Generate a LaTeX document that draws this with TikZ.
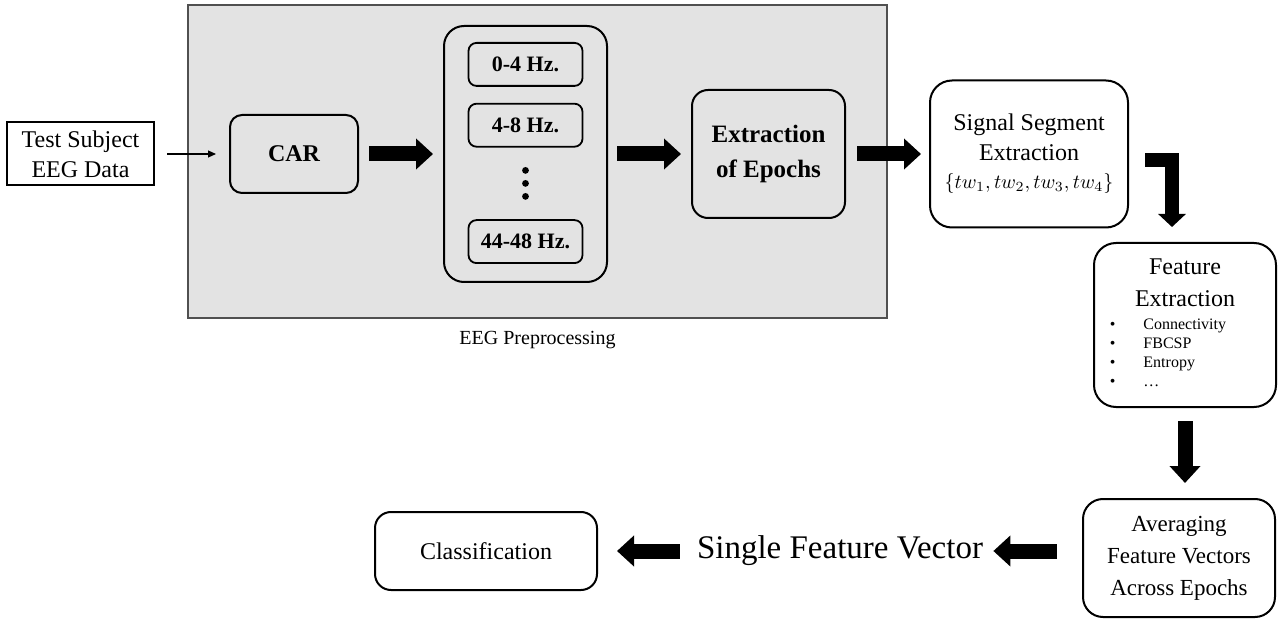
\documentclass[tikz,border=0pt]{standalone}
\usepackage{fontspec}
\setmainfont{Liberation Serif}
\usetikzlibrary{arrows.meta, positioning, calc}
\definecolor{prepgray}{HTML}{E3E3E3}
\definecolor{prepedge}{HTML}{505050}

\begin{document}
\begin{tikzpicture}[
    node distance=41.5pt,
    every node/.style={align=center, inner sep=0pt},
    block/.style={draw, line width=1pt, rounded corners=6pt, fill=prepgray},
    whitebox/.style={draw, line width=1pt, rounded corners=11pt, fill=white},
    band/.style={
        draw,
        line width=0.9pt,
        rounded corners=4pt,
        fill=prepgray,
        minimum width=57pt,
        minimum height=21.5pt,
        font=\fontsize{11}{13}\selectfont\bfseries
    },
    bigarrow/.style={line width=7.5pt, -{Triangle[width=15pt,length=8.5pt]}},
    feedarrow/.style={line width=0.6pt, -{Triangle[width=3.5pt,length=4pt]}}
]
\useasboundingbox (0,0) rectangle (640pt,-310pt);

% ---------- PREPROCESSING FRAME
\node (prep) [draw=prepedge, line width=0.6pt, fill=prepgray,
    minimum width=349.5pt, minimum height=156.5pt] at (268.75pt,-80.75pt) {};
\node (preplabel) [below=6pt of prep, font=\fontsize{10}{12}\selectfont] {EEG Preprocessing};

% ---------- TOP ROW
\node (input) [draw, line width=1pt, minimum width=73.5pt, minimum height=31.5pt,
    font=\fontsize{12}{15}\selectfont] at (40.25pt,-77pt) {Test Subject\\EEG Data};
\node (car) [block, right=37pt of input, minimum width=64pt, minimum height=39pt,
    font=\fontsize{12}{14}\selectfont\bfseries] {CAR};
\node (bands) [block, rounded corners=10pt, right=42pt of car,
    minimum width=81.5pt, minimum height=128pt] {};
\node (epochs) [block, rounded corners=8pt, right=of bands, minimum width=76.5pt,
    minimum height=64pt, font=\fontsize{12.5}{17.5}\selectfont\bfseries] {Extraction\\of Epochs};
\node (segment) [whitebox, right=of epochs, minimum width=99pt, minimum height=73.5pt,
    font=\fontsize{12}{15}\selectfont]
    {Signal Segment\\Extraction\\[-1pt]{\fontsize{10}{12}\selectfont$\{tw_1, tw_2, tw_3, tw_4\}$}};

% ---------- FREQUENCY BANDS
\node (b1) [band, below=8.5pt of bands.north] {0-4 Hz.};
\node (b2) [band, below=8pt of b1] {4-8 Hz.};
\node (b3) [band, above=9.5pt of bands.south] {44-48 Hz.};
\foreach \dy in {-6.5,0,6.5}
    \fill ($(b2.south)!0.5!(b3.north)+(0,\dy pt)$) circle (1.7pt);

% ---------- RIGHT COLUMN AND BOTTOM ROW
\node (feature) [whitebox, minimum width=91pt, minimum height=82pt,
    font=\fontsize{12}{16}\selectfont] at (592.5pt,-162.5pt)
    {Feature\\Extraction\\[-4.5pt]\hspace*{-17pt}{\fontsize{8}{9.5}\selectfont
    \begin{tabular}[t]{@{}l@{\hspace{14pt}}l@{}}
    \textbullet & Connectivity\\
    \textbullet & FBCSP\\
    \textbullet & Entropy\\
    \textbullet & \dots
    \end{tabular}}};
\node (average) [whitebox, rounded corners=10pt, minimum width=96pt, minimum height=59pt,
    font=\fontsize{11.5}{16}\selectfont] at (589.5pt,-279pt)
    {Averaging\\Feature Vectors\\Across Epochs};
\node (vector) [font=\fontsize{16.5}{20}\selectfont] at (420pt,-275.5pt) {Single Feature Vector};
\node (classif) [whitebox, rounded corners=8pt, minimum width=111pt, minimum height=39pt,
    font=\fontsize{12}{14}\selectfont] at (243pt,-275.5pt) {Classification};

% ---------- FLOW
\draw[feedarrow, shorten <=6pt, shorten >=6.5pt] (input) -- (car);
\draw[bigarrow, shorten <=5pt, shorten >=5pt] (car) -- (bands);
\draw[bigarrow, shorten <=4.5pt, shorten >=5pt] (bands) -- (epochs);
\draw[bigarrow, shorten <=5.5pt, shorten >=4pt] (epochs) -- (segment);

% ---------- ELBOW DOWN
\draw[line width=6.75pt, -{Triangle[width=13.5pt,length=6.5pt]}, line join=miter]
    ([xshift=8pt,yshift=-3pt]segment.east) -| ([xshift=-6.5pt,yshift=7.5pt]feature.north);
\draw[bigarrow, shorten <=6.5pt, shorten >=7.5pt] (feature.south) -- (feature.south |- average.north);

% ---------- BOTTOM FLOW
\draw[bigarrow, shorten <=12.5pt, shorten >=5pt] (average.west |- vector) -- (vector);
\draw[bigarrow, shorten <=8.5pt, shorten >=9.5pt] (vector) -- (classif);

\end{tikzpicture}
\end{document}
